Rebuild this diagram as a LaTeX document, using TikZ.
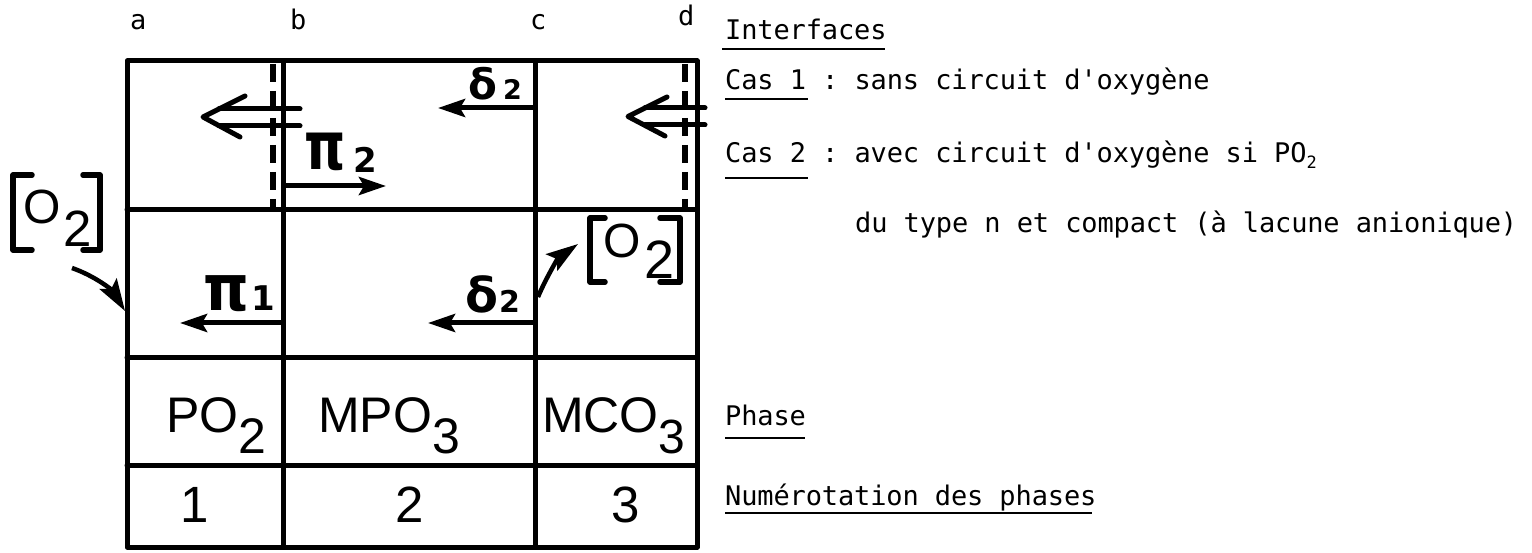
\documentclass[tikz,border=0pt]{standalone}
\usepackage{fontspec}
\setmainfont{Liberation Sans}
\setmonofont{DejaVu Sans Mono}[LetterSpace=-0.5]
\newfontfamily\grk{DejaVu Sans Bold}
\usetikzlibrary{arrows.meta}
\begin{document}
\begin{tikzpicture}[x=1pt,y=-1pt,
  gridline/.style={line width=5pt, line cap=round, line join=round},
  dashline/.style={line width=5.5pt, dash pattern=on 18pt off 9pt},
  flux/.style={line width=5pt, -{Stealth[length=27pt,width=18pt,inset=5pt]}},
  curvarrow/.style={line width=4.5pt, -{Stealth[length=32pt,width=20pt,inset=6pt]}},
  dbl/.style={line width=5pt, line cap=round, line join=round},
  brk/.style={line width=5.5pt, line cap=round, line join=round},
  under/.style={line width=1.6pt},
  mono/.style={font=\ttfamily\fontsize{27}{30}\selectfont, inner sep=0pt, anchor=base west},
  lett/.style={font=\fontsize{50}{56}\selectfont, inner sep=0pt, anchor=base west},
  num/.style={font=\fontsize{51}{56}\selectfont, inner sep=0pt, anchor=base},
  grkl/.style={font=\grk, inner sep=0pt, anchor=base west}]
\useasboundingbox (0,0) rectangle (1532,553);

% grid
\coordinate (A1) at (127,61);  \coordinate (D5) at (697,547);
\coordinate (B1) at (283,61);  \coordinate (B5) at (283,547);
\coordinate (C1) at (535,61);  \coordinate (C5) at (535,547);
\coordinate (R1l) at (127,210); \coordinate (R1r) at (697,210);
\coordinate (R2l) at (127,358); \coordinate (R2r) at (697,358);
\coordinate (R3l) at (127,465); \coordinate (R3r) at (697,465);
\draw[gridline] (A1) rectangle (D5);
\draw[gridline] (B1) -- (B5);
\draw[gridline] (C1) -- (C5);
\draw[gridline] (R1l) -- (R1r);
\draw[gridline] (R2l) -- (R2r);
\draw[gridline] (R3l) -- (R3r);

% dashed interfaces
\coordinate (dl1) at (273,64); \coordinate (dl2) at (273,210);
\coordinate (dr1) at (685,64); \coordinate (dr2) at (685,210);
\draw[dashline] (dl1) -- (dl2);
\draw[dashline] (dr1) -- (dr2);

% interface letters
\node[mono] (la) at (130,30) {a};
\node[mono] (lb) at (290,30) {b};
\node[mono] (lc) at (530,30) {c};
\node[mono] (ld) at (678,26) {d};

% double (hollow) arrows
\draw[dbl] (300,109) -- (219,109);
\draw[dbl] (300,126) -- (219,126);
\draw[dbl] (245,96) -- (203,117) -- (240,137);
\draw[dbl] (705,108) -- (645,108);
\draw[dbl] (705,125) -- (645,125);
\draw[dbl] (667,97) -- (628,116.5) -- (665,136);

% flux arrows
\coordinate (p2s) at (285,186); \coordinate (p2e) at (386,186);
\draw[flux] (p2s) -- (p2e);
\coordinate (d2ts) at (535,108); \coordinate (d2te) at (438,108);
\draw[flux] (d2ts) -- (d2te);
\coordinate (p1s) at (283,323); \coordinate (p1e) at (180,323);
\draw[flux] (p1s) -- (p1e);
\coordinate (d2ms) at (535,323); \coordinate (d2me) at (428,323);
\draw[flux] (d2ms) -- (d2me);

% greek labels
\node[grkl] (pi2) at (304,170) {\fontsize{58}{58}\selectfont\scalebox{0.9}[1.15]{π}\hspace{8pt}\raisebox{-3pt}{\fontsize{34}{34}\selectfont 2}};
\node[grkl] (del2t) at (468,100) {\fontsize{42}{42}\selectfont δ\hspace{6pt}{\fontsize{27}{27}\selectfont 2}};
\node[grkl] (pi1) at (203,311) {\fontsize{58}{58}\selectfont\scalebox{1}[1.1]{π}\hspace{2pt}{\fontsize{34}{34}\selectfont 1}};
\node[grkl] (del2m) at (465,313) {\fontsize{48}{48}\selectfont δ\hspace{1pt}{\fontsize{30}{30}\selectfont 2}};

% [O2] left
\draw[brk] (32,175) -- (13,175) -- (13,250) -- (32,250);
\draw[brk] (83,175) -- (100,175) -- (100,250) -- (83,250);
\node[inner sep=0pt, font=\fontsize{48}{52}\selectfont] (oxl) at (42,207) {O};
\node[inner sep=0pt, font=\fontsize{51}{52}\selectfont] (twl) at (78,229) {2};
\coordinate (cls) at (72,268); \coordinate (cle) at (125,311);
\draw[curvarrow] (cls) .. controls (95,276) and (112,290) .. (cle);

% [O2] right
\draw[brk] (605,218) -- (590,218) -- (590,282) -- (605,282);
\draw[brk] (660,218) -- (680,218) -- (680,282) -- (660,282);
\node[inner sep=0pt, font=\fontsize{48}{52}\selectfont] (oxr) at (622,241) {O};
\node[inner sep=0pt, font=\fontsize{54}{56}\selectfont] (twr) at (660,260) {2};
\coordinate (crs) at (538,297); \coordinate (cre) at (578,244);
\draw[curvarrow] (crs) .. controls (545,280) and (558,258) .. (cre);

% phases
\node[lett] (ph1) at (166,432) {PO\raisebox{-21pt}{\fontsize{50}{52}\selectfont 2}};
\node[lett] (ph2) at (318,432) {MPO\raisebox{-21pt}{\fontsize{50}{52}\selectfont 3}};
\node[lett] (ph3) at (542,432) {MCO\raisebox{-21pt}{\fontsize{48}{52}\selectfont 3}};

\node[num] (n1) at (195,522) {1};
\node[num] (n2) at (410,522) {2};
\node[num] (n3) at (626,522) {3};

% legend
\node[mono] (tint) at (725,40) {Interfaces};
\draw[under] (722,49) -- (885,49);
\node[mono] (tc1) at (725,90) {Cas 1 : sans circuit d'oxygène};
\draw[under] (725,99) -- (808,99);
\node[mono] (tc2) at (725,163) {Cas 2 : avec circuit d'oxygène si PO\raisebox{-6pt}{\fontsize{17}{17}\selectfont 2}};
\draw[under] (725,178) -- (808,178);
\node[mono] (tc3) at (855,233) {du type n et compact (à lacune anionique)};
\node[mono] (tph) at (725,425) {Phase};
\draw[under] (725,438) -- (805,438);
\node[mono] (tnum) at (725,505) {Numérotation des phases};
\draw[under] (725,513) -- (1092,513);
\end{tikzpicture}
\end{document}
